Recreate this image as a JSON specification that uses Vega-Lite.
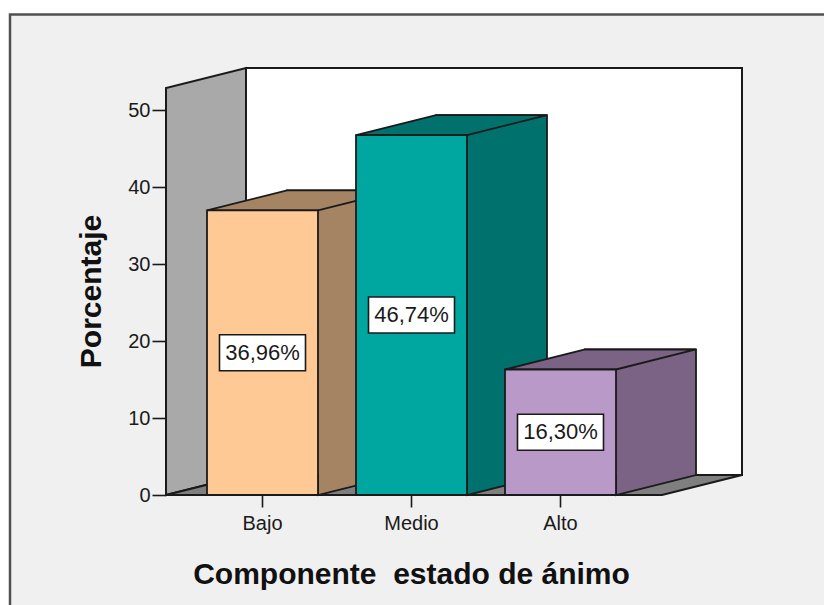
{
  "$schema": "https://vega.github.io/schema/vega-lite/v6.json",
  "autosize": {"type": "none"},
  "width": 496,
  "height": 407,
  "padding": {"left": 166, "top": 88, "right": 162, "bottom": 110},
  "background": "#f0f0f0",
  "config": {
    "font": "Liberation Sans",
    "view": {"stroke": null},
    "axis": {"zindex": 1, "grid": false, "domain": false, "tickColor": "#1a1a1a", "tickWidth": 1.6, "labelColor": "#1a1a1a", "titleColor": "#111111", "titleFont": "Liberation Sans", "labelFont": "Liberation Sans"},
    "axisX": {"tickSize": 12, "labelFontSize": 20, "labelPadding": 6, "labelAngle": 0, "titleFontSize": 30, "titleFontWeight": "bold", "titleX": 245, "titleY": 88, "titleBaseline": "alphabetic", "titleAlign": "center"},
    "axisY": {"tickSize": 14, "tickCount": 6, "labelFontSize": 20, "labelPadding": 2, "titleFontSize": 30, "titleFontWeight": "bold", "titleAngle": -90, "titleX": -66, "titleY": 203, "titleBaseline": "alphabetic", "titleAlign": "center"}
  },
  "data": {
    "values": [
      {"componente": "Bajo", "porcentaje": 36.96},
      {"componente": "Medio", "porcentaje": 46.74},
      {"componente": "Alto", "porcentaje": 16.30}
    ]
  },
  "resolve": {"scale": {"y": "independent"}, "axis": {"y": "independent"}},
  "layer": [
    {
      "layer": [
        {
          "data": {"values": [{}]},
          "mark": {"type": "rect", "fill": "white", "strokeWidth": 0},
          "encoding": {"x": {"value": -166}, "y": {"value": -88}, "x2": {"value": 658}, "y2": {"value": -74}}
        },
        {
          "data": {"values": [{}]},
          "mark": {"type": "rect", "fill": "white", "strokeWidth": 0},
          "encoding": {"x": {"value": -166}, "y": {"value": -88}, "x2": {"value": -157}, "y2": {"value": 517}}
        },
        {
          "data": {"values": [{}]},
          "mark": {"type": "rect", "fillOpacity": 0, "stroke": "#505050", "strokeWidth": 2.5},
          "encoding": {"x": {"value": -156}, "y": {"value": -73.5}, "x2": {"value": 700}, "y2": {"value": 560}}
        },
        {
          "data": {"values": [{}]},
          "mark": {"type": "point", "shape": "M80,-20L576,-20L576,-427L80,-427Z", "size": 4, "filled": true, "opacity": 1, "fill": "white", "stroke": "#1a1a1a", "strokeWidth": 2},
          "encoding": {
            "x": {"value": 0},
            "y": {"datum": 0, "type": "quantitative", "scale": {"domain": [0, 52.86], "nice": false, "zero": true}, "title": "Porcentaje"}
          }
        },
        {
          "data": {"values": [{}]},
          "mark": {"type": "point", "shape": "M0,0L0,-407L80,-427L80,-20Z", "size": 4, "filled": true, "opacity": 1, "fill": "#a9a9a9", "stroke": "#1a1a1a", "strokeWidth": 2},
          "encoding": {
            "x": {"value": 0},
            "y": {"datum": 0, "type": "quantitative", "scale": {"domain": [0, 52.86], "nice": false, "zero": true}, "title": "Porcentaje"}
          }
        },
        {
          "data": {"values": [{}]},
          "mark": {"type": "point", "shape": "M0,0L80,-20L576,-20L496,0Z", "size": 4, "filled": true, "opacity": 1, "fill": "#7f7f7f", "stroke": "#1a1a1a", "strokeWidth": 2},
          "encoding": {
            "x": {"value": 0},
            "y": {"datum": 0, "type": "quantitative", "scale": {"domain": [0, 52.86], "nice": false, "zero": true}, "title": "Porcentaje"}
          }
        },
        {
          "mark": {"type": "bar", "width": 111, "xOffset": 80, "yOffset": -20, "y2Offset": -20, "stroke": "#1a1a1a", "strokeWidth": 1.8},
          "encoding": {
            "x": {"field": "componente", "type": "nominal", "sort": ["Bajo", "Medio", "Alto"], "scale": {"domain": ["Bajo", "Medio", "Alto"], "paddingInner": 0, "paddingOuter": 0.1644, "align": 0.449}, "title": "Componente\u00a0 estado de ánimo"},
            "y": {"field": "porcentaje", "type": "quantitative", "scale": {"domain": [0, 52.86], "nice": false, "zero": true}, "title": "Porcentaje"},
            "fill": {"field": "componente", "type": "nominal", "scale": {"domain": ["Bajo", "Medio", "Alto"], "range": ["#a58463", "#00716c", "#7a6384"]}, "legend": null}
          }
        },
        {
          "mark": {"type": "point", "shape": "M-55.5,0L55.5,0L135.5,-20L24.5,-20Z", "size": 4, "filled": true, "opacity": 1, "stroke": "#1a1a1a", "strokeWidth": 1.8},
          "encoding": {
            "x": {"field": "componente", "type": "nominal", "sort": ["Bajo", "Medio", "Alto"], "scale": {"domain": ["Bajo", "Medio", "Alto"], "paddingInner": 0, "paddingOuter": 0.1644, "align": 0.449}, "title": "Componente\u00a0 estado de ánimo"},
            "y": {"field": "porcentaje", "type": "quantitative", "scale": {"domain": [0, 52.86], "nice": false, "zero": true}, "title": "Porcentaje"},
            "fill": {"field": "componente", "type": "nominal", "scale": {"domain": ["Bajo", "Medio", "Alto"], "range": ["#a58463", "#00716c", "#7a6384"]}, "legend": null}
          }
        },
        {
          "mark": {"type": "point", "shape": "M55.5,-21L55.5,0L135.5,-20L135.5,-21", "size": 4, "filled": true, "opacity": 1, "stroke": "#1a1a1a", "strokeWidth": 1.8},
          "encoding": {
            "x": {"field": "componente", "type": "nominal", "sort": ["Bajo", "Medio", "Alto"], "scale": {"domain": ["Bajo", "Medio", "Alto"], "paddingInner": 0, "paddingOuter": 0.1644, "align": 0.449}, "title": "Componente\u00a0 estado de ánimo"},
            "y": {"datum": 0, "type": "quantitative", "scale": {"domain": [0, 52.86], "nice": false, "zero": true}, "title": "Porcentaje"},
            "fill": {"field": "componente", "type": "nominal", "scale": {"domain": ["Bajo", "Medio", "Alto"], "range": ["#a58463", "#00716c", "#7a6384"]}, "legend": null}
          }
        },
        {
          "mark": {"type": "bar", "width": 111, "stroke": "#1a1a1a", "strokeWidth": 1.8},
          "encoding": {
            "x": {"field": "componente", "type": "nominal", "sort": ["Bajo", "Medio", "Alto"], "scale": {"domain": ["Bajo", "Medio", "Alto"], "paddingInner": 0, "paddingOuter": 0.1644, "align": 0.449}, "title": "Componente\u00a0 estado de ánimo"},
            "y": {"field": "porcentaje", "type": "quantitative", "scale": {"domain": [0, 52.86], "nice": false, "zero": true}, "title": "Porcentaje"},
            "color": {"field": "componente", "type": "nominal", "scale": {"domain": ["Bajo", "Medio", "Alto"], "range": ["#fec995", "#00a6a0", "#b999c8"]}, "legend": null}
          }
        }
      ]
    },
    {
      "layer": [
        {
          "mark": {"type": "point", "shape": "M-43,-18H43V18H-43Z", "size": 4, "filled": true, "opacity": 1, "fill": "white", "stroke": "#1a1a1a", "strokeWidth": 1.6},
          "encoding": {
            "x": {"field": "componente", "type": "nominal", "sort": ["Bajo", "Medio", "Alto"], "scale": {"domain": ["Bajo", "Medio", "Alto"], "paddingInner": 0, "paddingOuter": 0.1644, "align": 0.449}, "title": "Componente\u00a0 estado de ánimo"},
            "y": {"field": "porcentaje", "type": "quantitative", "scale": {"domain": [0, 105.72], "nice": false, "zero": true}, "axis": null}
          }
        },
        {
          "mark": {"type": "text", "fontSize": 22, "color": "#1a1a1a", "align": "center", "baseline": "middle", "text": {"expr": "replace(format(datum.porcentaje, '.2f'), '.', ',') + '%'"}},
          "encoding": {
            "x": {"field": "componente", "type": "nominal", "sort": ["Bajo", "Medio", "Alto"], "scale": {"domain": ["Bajo", "Medio", "Alto"], "paddingInner": 0, "paddingOuter": 0.1644, "align": 0.449}, "title": "Componente\u00a0 estado de ánimo"},
            "y": {"field": "porcentaje", "type": "quantitative", "scale": {"domain": [0, 105.72], "nice": false, "zero": true}, "axis": null}
          }
        }
      ]
    }
  ]
}
